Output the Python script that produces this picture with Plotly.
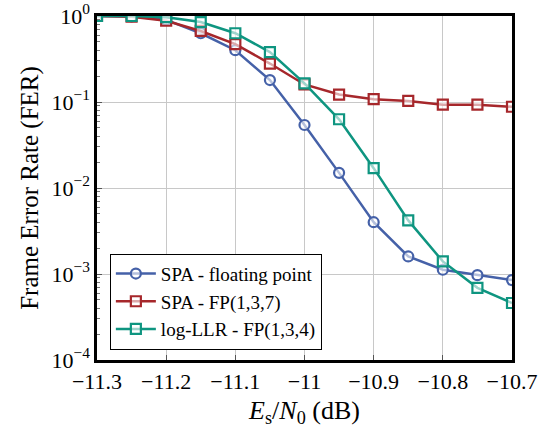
import plotly.graph_objects as go

snr = [-11.3, -11.25, -11.2, -11.15, -11.1, -11.05, -11.0, -10.95, -10.9, -10.85, -10.8, -10.75, -10.7]
fer_spa_float = [1.0, 0.99, 0.9, 0.63, 0.40, 0.18, 0.054, 0.015, 0.0040, 0.0016, 0.00112, 0.00097, 0.00085]
fer_spa_fp137 = [1.0, 0.98, 0.88, 0.67, 0.47, 0.28, 0.16, 0.122, 0.108, 0.103, 0.093, 0.093, 0.088]
fer_llr_fp134 = [1.0, 1.0, 0.97, 0.85, 0.63, 0.38, 0.165, 0.063, 0.017, 0.0042, 0.0014, 0.00069, 0.00046]

names = ["SPA - floating point", "SPA - FP(1,3,7)", "log-LLR - FP(1,3,4)"]
colors = ["#4561a8", "#a6272b", "#0e9580"]
symbols = ["circle", "square", "square"]
series = [fer_spa_float, fer_spa_fp137, fer_llr_fp134]

x_ticks = [-11.3, -11.2, -11.1, -11.0, -10.9, -10.8, -10.7]
x_labels = ["−11.3", "−11.2", "−11.1", "−11", "−10.9", "−10.8", "−10.7"]
y_ticks = [1e-4, 1e-3, 1e-2, 1e-1, 1]
y_labels = ["10<sup>−4</sup>", "10<sup>−3</sup>", "10<sup>−2</sup>", "10<sup>−1</sup>", "10<sup>0</sup>"]

fig = go.Figure()
for name, ys, c, s in zip(names, series, colors, symbols):
    fig.add_trace(go.Scatter(
        x=snr, y=ys, name=name, mode="lines+markers",
        line=dict(color=c, width=2.5),
        marker=dict(symbol=s, size=10, color="rgba(255,255,255,0.6)",
                    line=dict(color=c, width=2.2)),
    ))

font_family = "Liberation Serif, Times New Roman, serif"
fig.update_layout(
    width=539, height=428,
    margin=dict(l=97, r=27, t=16, b=68),
    paper_bgcolor="white", plot_bgcolor="white",
    font=dict(family=font_family, size=20, color="black"),
    showlegend=True,
    legend=dict(x=0.031, y=0.03, xanchor="left", yanchor="bottom",
                bgcolor="white", bordercolor="black", borderwidth=1,
                font=dict(size=19), tracegroupgap=0, itemwidth=40),
    xaxis=dict(
        range=[-11.3, -10.7], tickvals=x_ticks, ticktext=x_labels,
        showgrid=True, gridcolor="#c8c8c8", gridwidth=1,
        showline=True, linecolor="black", linewidth=2.5, mirror=True,
        ticks="inside", ticklen=5, tickcolor="#555", zeroline=False,
        automargin=False, tickfont=dict(size=22),
        title=dict(text="<i>E</i><sub>s</sub>/<i>N</i><sub>0</sub> (dB)", font=dict(size=26), standoff=10),
    ),
    yaxis=dict(
        type="log", range=[-4, 0], tickvals=y_ticks, ticktext=y_labels,
        showgrid=True, gridcolor="#c8c8c8", gridwidth=1,
        showline=True, linecolor="black", linewidth=2.5, mirror=True,
        ticks="inside", ticklen=5, tickcolor="#555", zeroline=False,
        automargin=False, tickfont=dict(size=22),
        minor=dict(ticks="inside", ticklen=3, tickcolor="#777", showgrid=False,
                   tickvals=[m * 10 ** e for e in range(-4, 0) for m in range(2, 10)]),
        title=dict(text="Frame Error Rate (FER)", font=dict(size=25), standoff=6),
    ),
)
fig.write_html("out.html", config={"displayModeBar": False},
               post_script="document.body.style.margin='0';")
